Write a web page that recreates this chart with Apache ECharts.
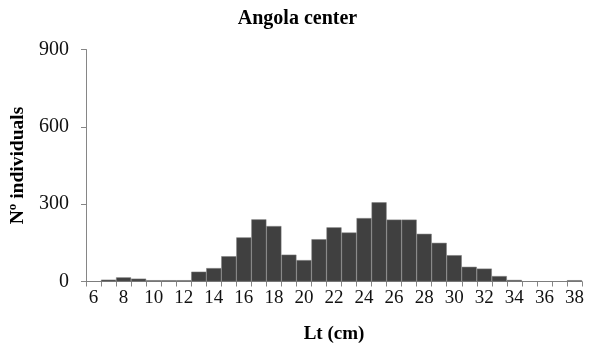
<!DOCTYPE html>
<html>
<head>
<meta charset="utf-8">
<script src="https://cdn.jsdelivr.net/npm/echarts@6/dist/echarts.min.js"></script>
<style>
  html, body { margin: 0; padding: 0; background: #fff; }
  #chart { width: 595px; height: 349px; }
</style>
</head>
<body>
<div id="chart"></div>
<script>
// Length classes (cm) and number of individuals in each class
const lengthClasses = ['6','7','8','9','10','11','12','13','14','15','16','17','18','19','20','21','22',
  '23','24','25','26','27','28','29','30','31','32','33','34','35','36','37','38'];
const individuals = [0, 7, 16, 11, 5, 5, 5, 38, 52, 98, 171, 241, 215, 104, 83, 164, 210,
  190, 246, 307, 240, 240, 185, 150, 102, 57, 50, 21, 6, 0, 0, 0, 5];
const yTicks = [0, 300, 600, 900];

const serif = '"Liberation Serif", "Times New Roman", serif';
const axisGray = '#868686';

const chart = echarts.init(document.getElementById('chart'));
chart.setOption({
  animation: false,
  title: {
    text: 'Angola center',
    left: 'center',
    top: 4,
    textStyle: { fontFamily: serif, fontWeight: 'bold', fontSize: 20, color: '#000' }
  },
  grid: { left: 86, right: 13, top: 49.5, bottom: 67.5 },
  xAxis: {
    type: 'category',
    data: lengthClasses,
    boundaryGap: true,
    name: 'Lt (cm)',
    nameLocation: 'middle',
    nameGap: 43,
    nameTextStyle: { fontFamily: serif, fontWeight: 'bold', fontSize: 19, color: '#000' },
    axisLine: { lineStyle: { color: axisGray, width: 1 } },
    axisTick: { show: true, interval: 0, length: 5, alignWithLabel: false, lineStyle: { color: axisGray } },
    axisLabel: { interval: 1, margin: 7, fontFamily: serif, fontSize: 19, color: '#111' }
  },
  yAxis: {
    type: 'value',
    min: yTicks[0],
    max: yTicks[yTicks.length - 1],
    interval: yTicks[1] - yTicks[0],
    name: 'Nº individuals',
    nameLocation: 'middle',
    nameGap: 57,
    nameTextStyle: { fontFamily: serif, fontWeight: 'bold', fontSize: 19.5, color: '#000' },
    axisLine: { show: true, lineStyle: { color: axisGray, width: 1 } },
    axisTick: { show: true, length: 5, lineStyle: { color: axisGray } },
    splitLine: { show: false },
    axisLabel: { margin: 17, fontFamily: serif, fontSize: 20, color: '#111' }
  },
  series: [{
    type: 'bar',
    data: individuals,
    barCategoryGap: '0%',
    itemStyle: { color: '#404040', borderColor: '#7a7a7a', borderWidth: 0.5 }
  }]
});
</script>
</body>
</html>
